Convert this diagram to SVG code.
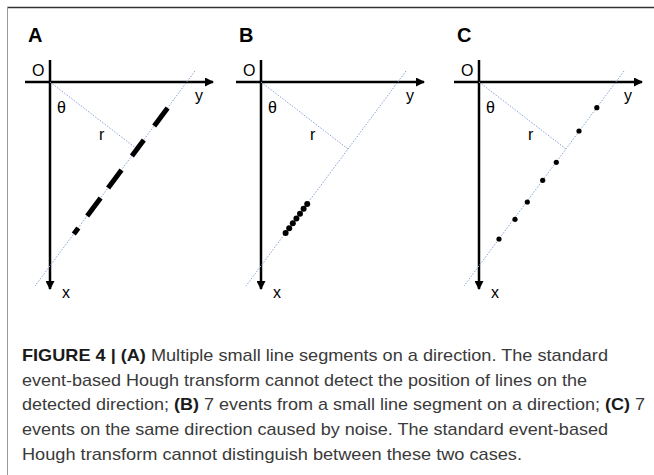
<svg xmlns="http://www.w3.org/2000/svg" width="654" height="475" viewBox="0 0 654 475">
<defs>
<style>
.axis{stroke:#000;stroke-width:2.5;fill:none}
.guide{stroke:#86a3d8;stroke-width:1;stroke-dasharray:1.5 1.5;fill:none}
.seg{stroke:#000;stroke-width:5;stroke-linecap:butt}
.lbl{font-family:"Liberation Sans",Arial,sans-serif;font-size:16px;fill:#000}
.plbl{font-family:"Liberation Sans",Arial,sans-serif;font-size:20px;font-weight:bold;fill:#000}
.cap{font-family:"Liberation Sans",Arial,sans-serif;font-size:17px;fill:#3a3a3a}
.b{font-weight:bold;fill:#1a1a1a}
</style>
<marker id="ah" markerWidth="9" markerHeight="9" refX="8" refY="4.5" orient="auto" markerUnits="userSpaceOnUse">
<path d="M0,0 L9,4.5 L0,9 Z" fill="#000"/>
</marker>
</defs>
<rect width="654" height="475" fill="#fff"/>
<g id="frame">
<line x1="7" y1="7.5" x2="654" y2="7.5" stroke="#333" stroke-width="1.5"/>
<line x1="7.5" y1="7" x2="7.5" y2="475" stroke="#999" stroke-width="1"/>
</g>

<g id="panelA">
<text class="plbl" x="28" y="42">A</text>
<text class="lbl" x="32" y="76">O</text>
<text class="lbl" x="195" y="101">y</text>
<text class="lbl" x="57" y="113">θ</text>
<text class="lbl" x="99" y="140">r</text>
<text class="lbl" x="62" y="298">x</text>
<g class="connectors">
<line class="axis" x1="50" y1="60" x2="50" y2="289" marker-end="url(#ah)"/>
<line class="axis" x1="25" y1="82" x2="213" y2="82" marker-end="url(#ah)"/>
<line class="guide" x1="195" y1="71" x2="35" y2="286"/>
<line class="guide" x1="50" y1="82" x2="137" y2="149"/>
</g>
<line class="seg" x1="167.6" y1="108" x2="154.2" y2="126"/>
<line class="seg" x1="143.8" y1="140" x2="131.9" y2="156"/>
<line class="seg" x1="121.5" y1="170" x2="108.1" y2="188"/>
<line class="seg" x1="100.6" y1="198" x2="87.2" y2="216"/>
<line class="seg" x1="78.3" y1="228" x2="73.8" y2="234"/>
</g>

<g id="panelB">
<text class="plbl" x="239" y="42">B</text>
<text class="lbl" x="243" y="76">O</text>
<text class="lbl" x="406" y="101">y</text>
<text class="lbl" x="268" y="113">θ</text>
<text class="lbl" x="310" y="140">r</text>
<text class="lbl" x="273" y="298">x</text>
<g class="connectors">
<line class="axis" x1="261" y1="60" x2="261" y2="289" marker-end="url(#ah)"/>
<line class="axis" x1="236" y1="82" x2="424" y2="82" marker-end="url(#ah)"/>
<line class="guide" x1="406" y1="71" x2="246" y2="286"/>
<line class="guide" x1="261" y1="82" x2="348" y2="149"/>
</g>
<g fill="#000">
<circle cx="307.2" cy="204" r="3"/>
<circle cx="303.6" cy="208.8" r="3"/>
<circle cx="300.0" cy="213.7" r="3"/>
<circle cx="296.4" cy="218.5" r="3"/>
<circle cx="292.8" cy="223.3" r="3"/>
<circle cx="289.2" cy="228.2" r="3"/>
<circle cx="285.6" cy="233" r="3"/>
</g>
</g>

<g id="panelC">
<text class="plbl" x="457" y="42">C</text>
<text class="lbl" x="461" y="76">O</text>
<text class="lbl" x="624" y="101">y</text>
<text class="lbl" x="486" y="113">θ</text>
<text class="lbl" x="528" y="140">r</text>
<text class="lbl" x="491" y="298">x</text>
<g class="connectors">
<line class="axis" x1="479" y1="60" x2="479" y2="289" marker-end="url(#ah)"/>
<line class="axis" x1="454" y1="82" x2="642" y2="82" marker-end="url(#ah)"/>
<line class="guide" x1="624" y1="71" x2="464" y2="286"/>
<line class="guide" x1="479" y1="82" x2="566" y2="149"/>
</g>
<g fill="#000">
<circle cx="596.8" cy="107.7" r="2.6"/>
<circle cx="579" cy="131" r="2.6"/>
<circle cx="556.3" cy="162.3" r="2.6"/>
<circle cx="542.7" cy="180.3" r="2.6"/>
<circle cx="527.3" cy="202" r="2.6"/>
<circle cx="515" cy="219.3" r="2.6"/>
<circle cx="499" cy="239" r="2.6"/>
</g>
</g>

<g id="caption">
<text class="cap" x="22" y="361" textLength="586" lengthAdjust="spacingAndGlyphs"><tspan class="b">FIGURE 4 | (A)</tspan> Multiple small line segments on a direction. The standard</text>
<text class="cap" x="22" y="386" textLength="565" lengthAdjust="spacingAndGlyphs">event-based Hough transform cannot detect the position of lines on the</text>
<text class="cap" x="22" y="410" textLength="623" lengthAdjust="spacingAndGlyphs">detected direction; <tspan class="b">(B)</tspan> 7 events from a small line segment on a direction; <tspan class="b">(C)</tspan> 7</text>
<text class="cap" x="22" y="435" textLength="586" lengthAdjust="spacingAndGlyphs">events on the same direction caused by noise. The standard event-based</text>
<text class="cap" x="22" y="460" textLength="500" lengthAdjust="spacingAndGlyphs">Hough transform cannot distinguish between these two cases.</text>
</g>
</svg>
